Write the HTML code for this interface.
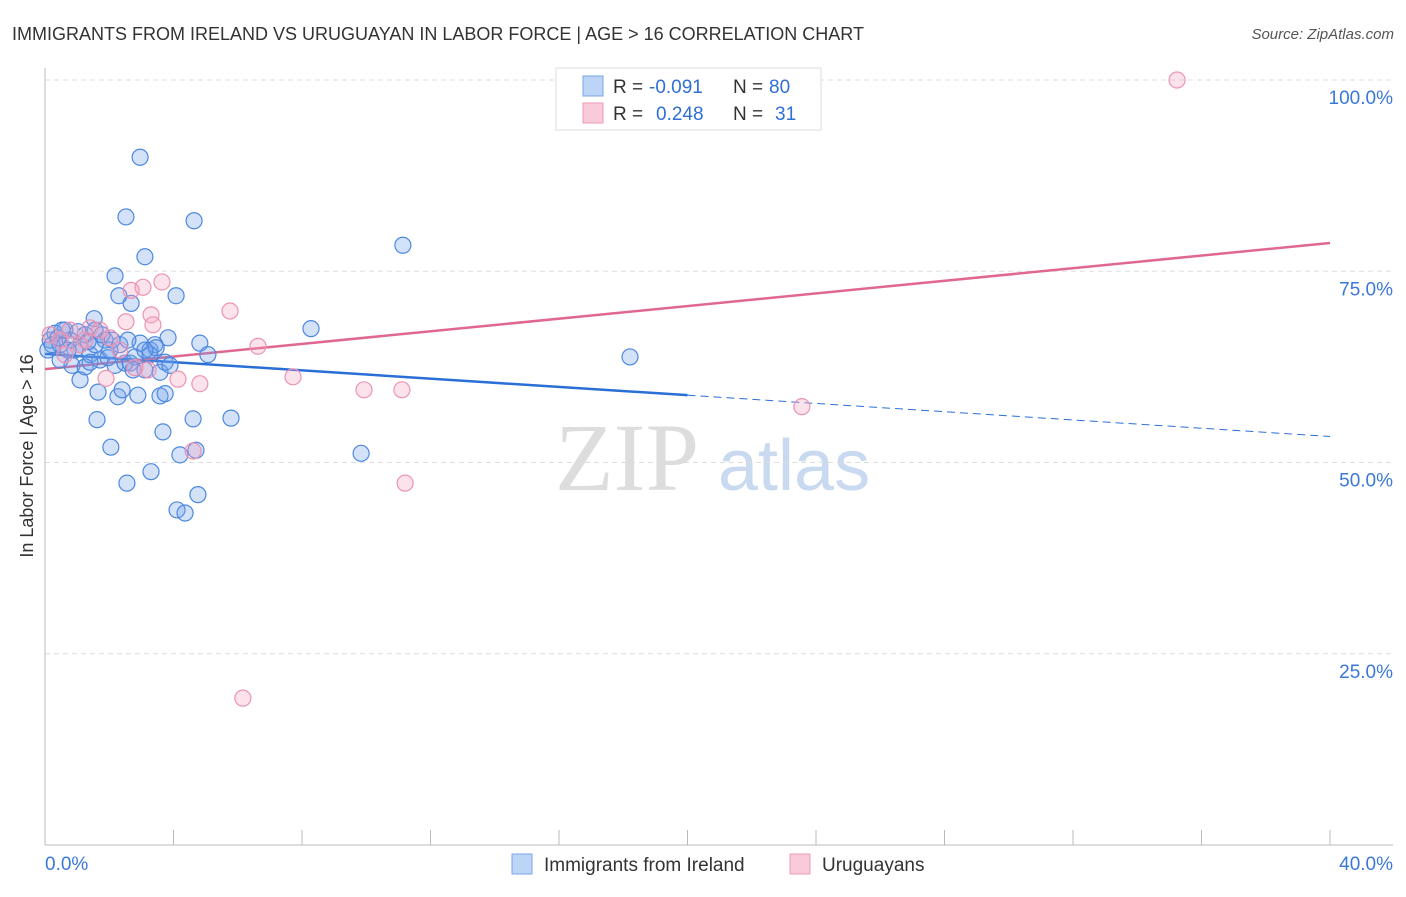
<!DOCTYPE html>
<html><head><meta charset="utf-8"><style>
body{margin:0;background:#fff;font-family:"Liberation Sans",sans-serif;}
</style></head><body>
<svg id="c" width="1406" height="892" xmlns="http://www.w3.org/2000/svg" font-family="Liberation Sans, sans-serif">
<text x="12" y="40" font-size="18" fill="#333">IMMIGRANTS FROM IRELAND VS URUGUAYAN IN LABOR FORCE | AGE &gt; 16 CORRELATION CHART</text>
<text x="1394" y="39" font-size="15" fill="#555" font-style="italic" text-anchor="end">Source: ZipAtlas.com</text>
<text x="555" y="490" font-size="96" fill="#ddd" font-family="Liberation Serif, serif">ZIP</text>
<text x="718" y="490" font-size="72" fill="#c9d9f0">atlas</text>
<text transform="translate(33,456) rotate(-90)" font-size="18" fill="#333" text-anchor="middle">In Labor Force | Age &gt; 16</text>
<g id="grid"></g><g id="axes"></g><g id="trend"></g><g id="pts"></g>
<g>
<rect x="556" y="68" width="265" height="62" fill="#fff" stroke="#ddd"/>
<rect x="583" y="76" width="20" height="20" fill="#bcd4f6" stroke="#7aa5e8"/>
<rect x="583" y="103" width="20" height="20" fill="#f9cad9" stroke="#ee9ab8"/>
<text x="613" y="93" font-size="19" fill="#333">R =</text>
<text x="649" y="93" font-size="19" fill="#2f6fd6">-0.091</text>
<text x="733" y="93" font-size="19" fill="#333">N =</text>
<text x="769" y="93" font-size="19" fill="#2f6fd6">80</text>
<text x="613" y="120" font-size="19" fill="#333">R =</text>
<text x="656" y="120" font-size="19" fill="#2f6fd6">0.248</text>
<text x="733" y="120" font-size="19" fill="#333">N =</text>
<text x="775" y="120" font-size="19" fill="#2f6fd6">31</text>
</g>
<g>
<rect x="512" y="854" width="20" height="20" fill="#bcd4f6" stroke="#7aa5e8"/>
<text x="544" y="871" font-size="19" fill="#333">Immigrants from Ireland</text>
<rect x="790" y="854" width="20" height="20" fill="#f9cad9" stroke="#ee9ab8"/>
<text x="822" y="871" font-size="19" fill="#333">Uruguayans</text>
</g>
</svg>
<script>
const yTicks=[100,75,50,25];
const yTickLabels=["100.0%","75.0%","50.0%","25.0%"];
const blueX=[2.96,2.52,4.64,11.14,3.11,2.18,2.68,4.08,2.30,1.53,8.28,3.83,4.82,5.07,18.21,0.09,0.16,0.31,0.47,0.62,0.78,0.93,1.09,1.25,1.40,1.56,1.71,1.87,2.02,2.18,2.33,2.49,2.65,2.80,2.96,3.11,3.27,3.42,3.58,3.74,1.09,1.65,2.27,2.40,2.89,3.58,3.74,1.62,4.61,5.79,2.05,3.67,4.20,4.70,9.84,3.30,2.55,4.76,4.11,4.36,0.47,0.84,1.25,0.22,0.40,0.72,1.03,1.34,1.77,2.09,2.58,3.27,3.46,1.40,0.53,1.96,2.74,3.11,3.89,1.56];
const blueY=[89.9,82.1,81.6,78.4,76.9,74.4,70.8,71.8,71.8,68.8,67.5,66.3,65.6,64.1,63.8,64.7,66.0,66.9,65.4,67.3,66.0,64.7,65.4,66.7,64.1,65.4,63.4,66.0,64.7,62.7,65.4,63.0,63.0,63.8,65.6,62.1,64.7,65.4,61.8,63.1,60.8,59.2,58.6,59.5,58.8,58.7,59.0,55.6,55.7,55.8,52.0,54.0,51.0,51.6,51.2,48.8,47.3,45.8,43.8,43.4,63.4,62.7,62.5,65.4,66.3,64.7,67.1,65.8,66.7,66.0,66.0,64.1,65.0,63.1,67.3,63.7,62.1,64.7,62.7,67.3];
const pinkX=[35.24,3.64,2.68,3.05,5.76,3.30,3.36,2.52,6.63,11.11,9.93,7.72,4.82,4.14,1.90,3.21,2.80,23.56,11.21,4.61,6.16,0.16,0.47,0.78,1.09,1.40,1.71,2.02,2.33,0.62,1.25];
const pinkY=[100,73.6,72.5,72.9,69.8,69.3,68.0,68.4,65.2,59.5,59.5,61.2,60.3,60.9,61.0,62.1,62.4,57.3,47.3,51.5,19.2,66.7,66.0,67.3,65.4,67.6,67.3,66.3,64.7,64.1,66.0];
const blueTrend=[64.2,53.4], blueSolidEnd=20;
const pinkTrend=[62.2,78.7];
const NS="http://www.w3.org/2000/svg";
const X=v=>45+v/40*1285, Y=v=>845-v/100*765;
function mk(t,a,p){const e=document.createElementNS(NS,t);for(const k in a)e.setAttribute(k,a[k]);document.getElementById(p).appendChild(e);return e;}
yTicks.forEach((t,i)=>{
 const l=mk('line',{x1:45,x2:1393,y1:Y(t),y2:Y(t),stroke:'#ddd','stroke-dasharray':'5,4'},'grid');
 
 
 const tx=mk('text',{x:1393,y:Y(t)+24,'font-size':19,fill:'#3b78d8','text-anchor':'end'},'grid');
 tx.textContent=yTickLabels[i];
 
 
});
let ax=mk('line',{x1:45,x2:45,y1:68,y2:845,stroke:'#bbb'},'axes');


ax=mk('line',{x1:45,x2:1393,y1:845,y2:845,stroke:'#bbb'},'axes');


for(let i=0;i<=10;i++){const t=mk('line',{x1:X(i*4),x2:X(i*4),y1:830,y2:845,stroke:'#bbb'},'axes');
 
 }
[["0.0%",45,'start'],["40.0%",1393,'end']].forEach(d=>{const t=mk('text',{x:d[1],y:870,'font-size':19,fill:'#3b78d8','text-anchor':d[2]},'axes');t.textContent=d[0];
 
 });
function pts(xs,ys,fill,stroke,name){xs.forEach((x,i)=>{const c=mk('circle',{cx:X(x),cy:Y(ys[i]),r:8,fill:fill,stroke:stroke,'stroke-width':1.2},'pts');
 
 });}
pts(blueX,blueY,'rgba(110,160,235,0.3)','#4d88e0','ireland-point');
pts(pinkX,pinkY,'rgba(245,160,190,0.3)','#ec93b3','uruguayan-point');
const by=x=>blueTrend[0]+(blueTrend[1]-blueTrend[0])*x/40;
let l=mk('line',{x1:X(0),y1:Y(by(0)),x2:X(blueSolidEnd),y2:Y(by(blueSolidEnd)),stroke:'#2a6fd6','stroke-width':2.5},'trend');


l=mk('line',{x1:X(blueSolidEnd),y1:Y(by(blueSolidEnd)),x2:X(40),y2:Y(by(40)),stroke:'#2a6fd6','stroke-width':1,'stroke-dasharray':'8,5'},'trend');


l=mk('line',{x1:X(0),y1:Y(pinkTrend[0]),x2:X(40),y2:Y(pinkTrend[1]),stroke:'#e06890','stroke-width':2.5},'trend');


</script>
</body></html>
